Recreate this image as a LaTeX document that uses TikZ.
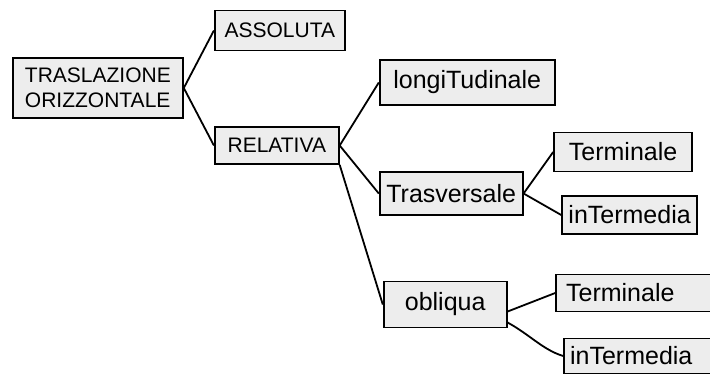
\documentclass[tikz,border=0pt]{standalone}
\usepackage{fontspec}
\setmainfont{Liberation Sans}
\newcommand{\capsfont}{\fontsize{21}{25}\selectfont}
\newcommand{\handfont}{\fontsize{25}{28}\selectfont}
\begin{document}
\begin{tikzpicture}[x=1pt, y=-1pt, grow'=right,
  parent anchor=east, child anchor=west,
  level 1/.style={level distance=116pt, sibling distance=115pt},
  level 2/.style={level distance=102pt, sibling distance=111pt},
  level 3/.style={level distance=102pt, sibling distance=63pt},
  every node/.style={draw, line width=1.8pt, fill=black!7, anchor=west, minimum height=40pt, inner sep=3pt, font=\handfont},
  edge from parent/.style={draw, line width=1.8pt}]

  \useasboundingbox (0,0) rectangle (710,373);

  \node[minimum width=170pt, minimum height=60pt, align=left, font=\capsfont] (trasl) at (12,88) {TRASLAZIONE\\ORIZZONTALE}
    child {node[minimum width=130pt, font=\capsfont] (assoluta) {ASSOLUTA}}
    child {node[minimum width=124pt, minimum height=37pt, font=\capsfont] (relativa) {RELATIVA}
        child[yshift=-48pt] {node[minimum width=175pt, minimum height=45pt] (longit) {longiTudinale}}
        child[yshift=-48pt] {node[minimum width=143pt, minimum height=43pt] (trasv) {Trasversale}
            child[yshift=10pt] {node[minimum width=138pt, minimum height=39pt] (term1) {Terminale}}
            child[yshift=10pt, xshift=8pt] {node[minimum width=135pt, minimum height=38pt] (inter1) {inTermedia}}
        }
        child[yshift=-48pt, xshift=4pt, edge from parent path={(\tikzparentnode.south east) -- (\tikzchildnode.west)}] {node[minimum width=123pt, minimum height=46pt] (obliqua) {obliqua}
            % both edges leave obliqua below its middle
            child[yshift=-20pt, xshift=8pt, edge from parent path={([yshift=-7pt]\tikzparentnode.east) -- (\tikzchildnode.west)}] {node[text width=160pt, inner xsep=10pt, align=left, minimum height=37pt] (term2) {Terminale}}
            child[yshift=-20pt, xshift=16pt, edge from parent path={([yshift=-18pt]\tikzparentnode.east) .. controls +(22,12) and +(-20,-6) .. (\tikzchildnode.west)}] {node[text width=160pt, inner xsep=6pt, align=left, minimum height=35pt] (inter2) {inTermedia}}
        }
    };
\end{tikzpicture}
\end{document}
